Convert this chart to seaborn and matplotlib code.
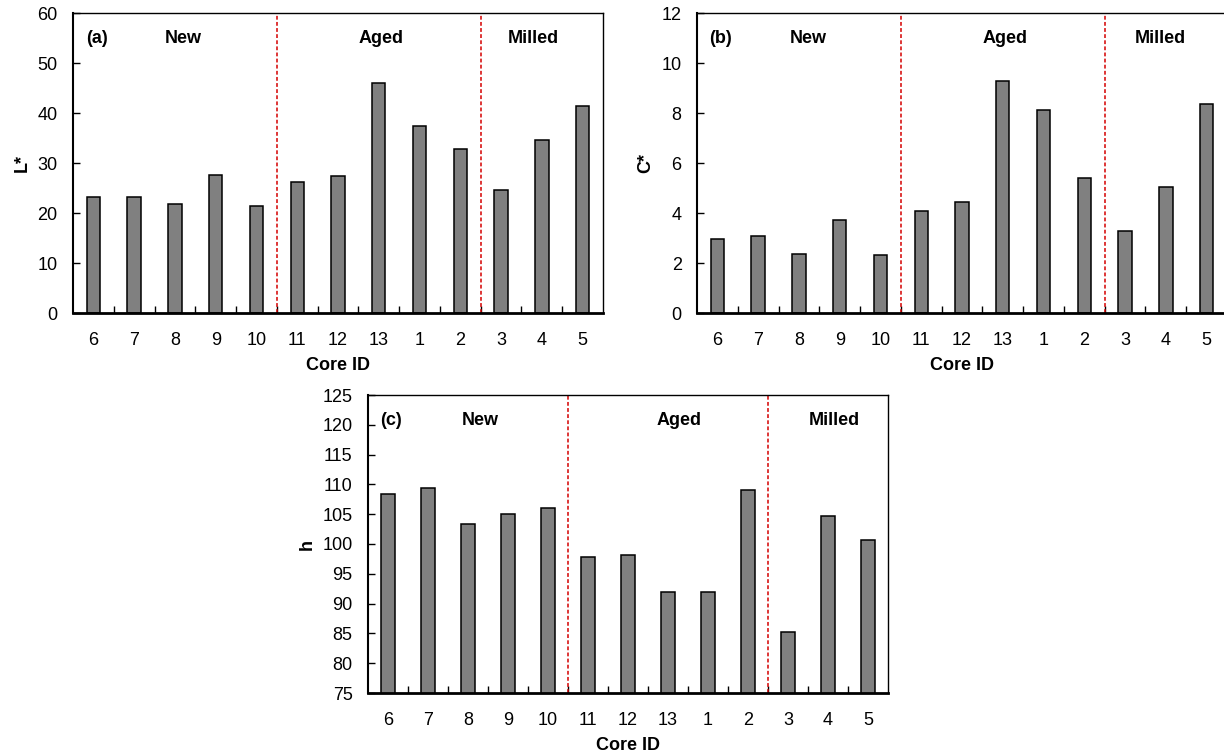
import matplotlib
matplotlib.use("Agg")
import matplotlib.pyplot as plt
import seaborn as sns
import pandas as pd

# Core IDs in display order, grouped New / Aged / Milled
core_ids = ["6", "7", "8", "9", "10", "11", "12", "13", "1", "2", "3", "4", "5"]
group_names = ["New", "Aged", "Milled"]

# Colour coordinates per core
lightness = [23.2, 23.2, 21.8, 27.6, 21.4, 26.3, 27.4, 46.1, 37.4, 32.8, 24.6, 34.6, 41.5]
chroma = [2.97, 3.10, 2.38, 3.72, 2.32, 4.10, 4.43, 9.28, 8.12, 5.42, 3.27, 5.06, 8.35]
hue = [108.4, 109.4, 103.3, 105.1, 106.1, 97.8, 98.2, 91.9, 91.9, 109.0, 85.3, 104.7, 100.6]

sns.set_theme(style="white")
plt.rcParams["font.family"] = ["Liberation Sans", "DejaVu Sans"]

fig = plt.figure(figsize=(12.24, 7.55), dpi=100)

panels = [
    # (values, ylabel, tag, ylim, ytick step, axes rect, group label x positions)
    (lightness, "L*", "(a)", (0, 60), 10, [73 / 1224, 1 - 313 / 755, 530 / 1224, 300 / 755], [2.2, 7.05, 10.8]),
    (chroma, "C*", "(b)", (0, 12), 2, [697 / 1224, 1 - 313 / 755, 530 / 1224, 300 / 755], [2.22, 7.05, 10.86]),
    (hue, "h", "(c)", (75, 125), 5, [368 / 1224, 1 - 693 / 755, 520 / 1224, 298 / 755], [2.3, 7.27, 11.15]),
]

for values, ylabel, tag, ylim, step, rect, gx in panels:
    ax = fig.add_axes(rect)
    df = pd.DataFrame({"core": core_ids, "value": values})
    sns.barplot(data=df, x="core", y="value", order=core_ids, color="#808080",
                edgecolor="black", linewidth=1.1, width=0.33, saturation=1, ax=ax)
    ax.set_xlim(-0.5, len(core_ids) - 0.5)
    ax.set_ylim(*ylim)
    ax.set_yticks(range(ylim[0], ylim[1] + 1, step))

    # category boundaries get short inward ticks; labels sit under bar centres
    ax.set_xticks([i + 0.5 for i in range(len(core_ids) - 1)], minor=True)
    ax.tick_params(axis="x", which="major", length=0, pad=13.5, labelsize=13, colors="black")
    ax.tick_params(axis="x", which="minor", direction="in", length=5, width=1, bottom=True, color="black")
    ax.tick_params(axis="y", which="major", direction="in", length=5, width=1, left=True,
                   pad=11, labelsize=13, colors="black")

    ax.set_xlabel("Core ID", fontsize=13, fontweight="bold", labelpad=6, color="black")
    ax.set_ylabel(ylabel, fontsize=13, fontweight="bold", labelpad=5, color="black")

    for side, lw in [("top", 1.0), ("right", 1.0), ("left", 1.5), ("bottom", 2.0)]:
        ax.spines[side].set_visible(True)
        ax.spines[side].set_color("black")
        ax.spines[side].set_linewidth(lw)

    # group separators
    for xb in (4.5, 9.5):
        ax.axvline(xb, color="#d40000", lw=1.1, linestyle=(0, (2.5, 1.5)))

    ax.text(0.045, 0.915, tag, transform=ax.transAxes, ha="center", va="center",
            fontsize=13, fontweight="bold", color="black")
    for name, x in zip(group_names, gx):
        ax.text(x, 0.915, name, transform=ax.get_xaxis_transform(), ha="center", va="center",
                fontsize=13, fontweight="bold", color="black")

fig.savefig("out.png", dpi=100)
